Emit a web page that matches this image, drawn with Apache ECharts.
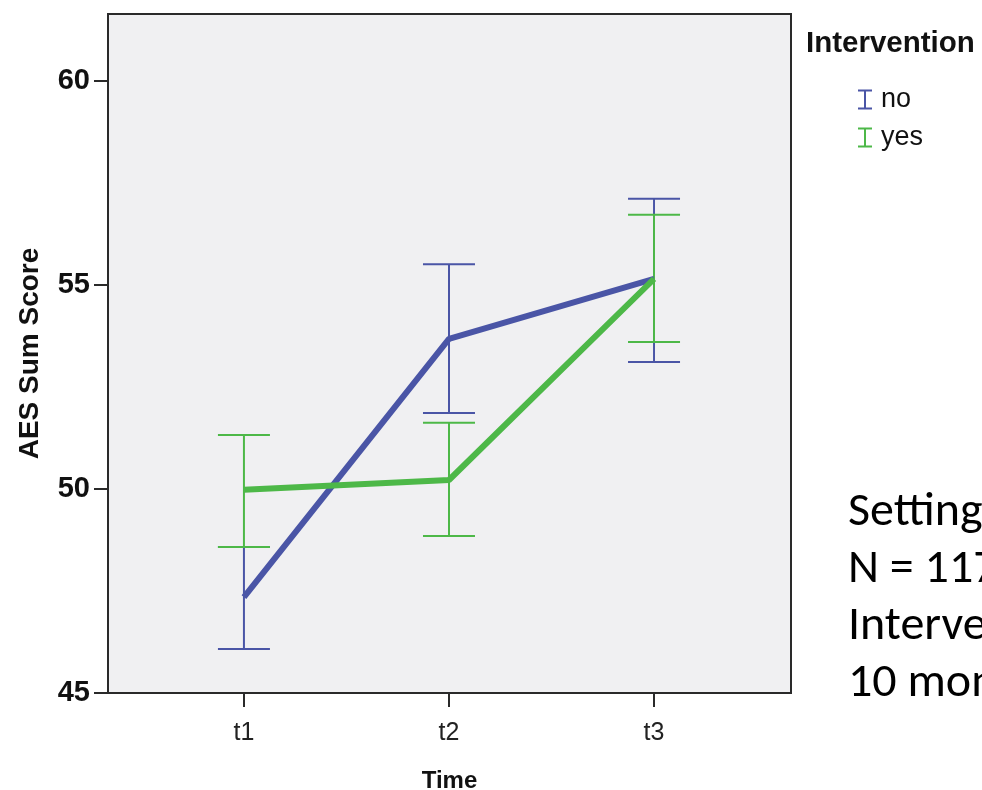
<!DOCTYPE html>
<html>
<head>
<meta charset="utf-8">
<script src="https://cdn.jsdelivr.net/npm/echarts@6/dist/echarts.min.js"></script>
<style>
html,body{margin:0;padding:0;background:#fff;overflow:hidden;}
#chart{width:982px;height:790px;}
</style>
</head>
<body>
<div id="chart"></div>
<script>
// ---- data ----
const timeLabels = ['t1', 't2', 't3'];
const timePos = [1, 2, 3];
const noMean = [47.35, 53.68, 55.15];
const noLow  = [46.08, 51.86, 53.11];
const noHigh = [48.58, 55.51, 57.11];
const yesMean = [49.98, 50.22, 55.15];
const yesLow  = [48.58, 48.85, 53.60];
const yesHigh = [51.32, 51.62, 56.72];
const yTicks = [45, 50, 55, 60];
const noteLines = ['Setting', 'N = 117', 'Intervention', '10 months'];

const BLUE = '#4a55a6';
const GREEN = '#4db848';
const SANS = '"Liberation Sans", Arial, sans-serif';

function errData(low, high) {
  return timePos.map((x, i) => [x, low[i], high[i]]);
}
function lineData(mean) {
  return timePos.map((x, i) => [x, mean[i]]);
}
function errRender(color) {
  return function (params, api) {
    const x = api.value(0), lo = api.value(1), hi = api.value(2);
    const pLo = api.coord([x, lo]);
    const pHi = api.coord([x, hi]);
    const h = 26;
    const st = { stroke: color, lineWidth: 2 };
    return {
      type: 'group',
      children: [
        { type: 'line', shape: { x1: pLo[0], y1: pLo[1], x2: pHi[0], y2: pHi[1] }, style: st },
        { type: 'line', shape: { x1: pLo[0] - h, y1: pLo[1], x2: pLo[0] + h, y2: pLo[1] }, style: st },
        { type: 'line', shape: { x1: pHi[0] - h, y1: pHi[1], x2: pHi[0] + h, y2: pHi[1] }, style: st }
      ]
    };
  };
}

const chart = echarts.init(document.getElementById('chart'));
const iconI = 'path://M0,0H14V2H8V18H14V20H0V18H6V2H0Z';

chart.setOption({
  animation: false,
  backgroundColor: '#ffffff',
  textStyle: { fontFamily: SANS },
  grid: {
    left: 108, right: 191, top: 14, bottom: 97,
    outerBoundsMode: 'none', containLabel: false,
    show: true, backgroundColor: '#f0f0f2', borderColor: '#2a2a2a', borderWidth: 2
  },
  xAxis: {
    type: 'value', min: 0.337, max: 3.668,
    name: 'Time', nameLocation: 'middle', nameGap: 76,
    nameTextStyle: { fontSize: 24, fontWeight: 'bold', color: '#111', fontFamily: SANS },
    splitLine: { show: false },
    axisLine: { show: true, lineStyle: { color: '#2a2a2a', width: 2 } },
    axisTick: { show: true, length: 14, lineStyle: { color: '#2a2a2a', width: 2 }, customValues: timePos },
    axisLabel: {
      customValues: timePos, margin: 28, fontSize: 25, color: '#222', fontFamily: SANS,
      formatter: v => timeLabels[Math.round(v) - 1] || ''
    }
  },
  yAxis: {
    type: 'value', min: 45, max: 61.64, interval: 5,
    name: 'AES Sum Score', nameLocation: 'middle', nameGap: 64, nameRotate: 90,
    nameTextStyle: { fontSize: 28, fontWeight: 'bold', color: '#111', fontFamily: SANS },
    splitLine: { show: false },
    axisLine: { show: true, lineStyle: { color: '#2a2a2a', width: 2 } },
    axisTick: { show: true, length: 14, lineStyle: { color: '#2a2a2a', width: 2 }, customValues: yTicks },
    axisLabel: { customValues: yTicks, margin: 18, fontSize: 29, fontWeight: 'bold', color: '#111', fontFamily: SANS }
  },
  title: {
    text: 'Intervention', left: 806, top: 29, padding: 0,
    textStyle: { fontSize: 29.5, fontWeight: 'bold', color: '#111', fontFamily: SANS }
  },
  legend: {
    orient: 'vertical', left: 858, top: 86, padding: 0,
    itemWidth: 14, itemHeight: 21, itemGap: 11,
    textStyle: { fontSize: 27, color: '#111', fontFamily: SANS, padding: [0, 0, 0, 4] },
    selectedMode: false,
    data: [
      { name: 'no', icon: iconI, itemStyle: { color: BLUE, borderWidth: 0 } },
      { name: 'yes', icon: iconI, itemStyle: { color: GREEN, borderWidth: 0 } }
    ]
  },
  graphic: noteLines.map((t, i) => ({
    type: 'text', left: 848, top: 489 + i * 57,
    style: { text: t, fontSize: 48, fill: '#000', fontFamily: 'Carlito, Calibri, Lato, sans-serif' }
  })),
  series: [
    {
      name: 'no', type: 'custom', renderItem: errRender(BLUE),
      encode: { x: 0, y: [1, 2] }, data: errData(noLow, noHigh), z: 2
    },
    {
      name: 'no', type: 'line', data: lineData(noMean), showSymbol: false,
      lineStyle: { color: BLUE, width: 6 }, itemStyle: { color: BLUE }, z: 2
    },
    {
      name: 'yes', type: 'custom', renderItem: errRender(GREEN),
      encode: { x: 0, y: [1, 2] }, data: errData(yesLow, yesHigh), z: 2
    },
    {
      name: 'yes', type: 'line', data: lineData(yesMean), showSymbol: false,
      lineStyle: { color: GREEN, width: 6 }, itemStyle: { color: GREEN }, z: 2
    }
  ]
});
</script>
</body>
</html>
